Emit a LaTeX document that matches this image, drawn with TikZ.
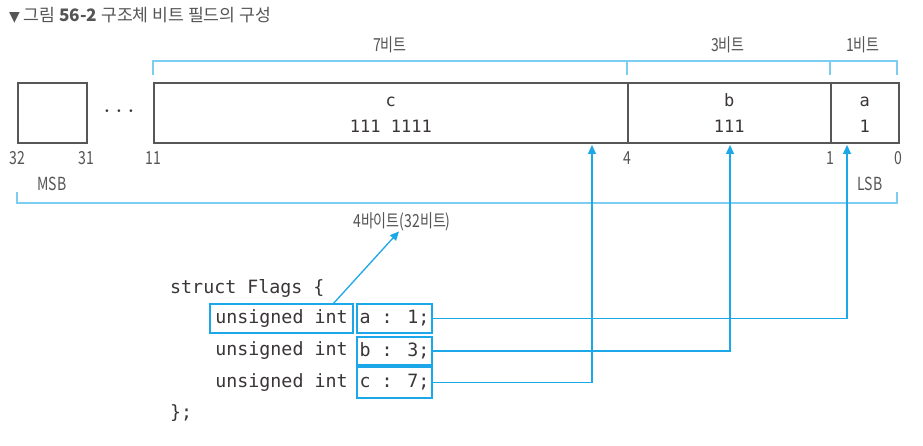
\documentclass[tikz,border=0pt]{standalone}
\usepackage{fontspec}
\setmainfont{Noto Sans CJK KR}
\newfontfamily\krfont{Noto Sans CJK KR}
\newfontfamily\lblfont[FakeStretch=0.78]{Noto Sans CJK KR}
\newfontfamily\monofont{DejaVu Sans Mono}
\newfontfamily\symfont{DejaVu Sans}
\usetikzlibrary{arrows.meta}
\definecolor{boxgray}{HTML}{595657}
\definecolor{txtgray}{HTML}{555555}
\definecolor{codecol}{HTML}{3A3536}
\definecolor{skyb}{HTML}{1CA8E8}
\definecolor{brkb}{HTML}{7CCDF2}
\tikzset{
  cell/.style={draw=boxgray, line width=1.6pt, inner sep=0pt, anchor=north west, minimum height=60pt, align=center,
    font=\monofont\fontsize{17}{26}\selectfont, text=codecol},
  lbl/.style={font=\lblfont\fontsize{18}{19}\selectfont, text=txtgray, inner sep=0pt},
  code/.style={font=\monofont\fontsize{18.3}{20}\selectfont, text=codecol, inner sep=0pt},
  cbox/.style={code, draw=skyb, line width=2.4pt, minimum height=29pt},
  brk/.style={draw=brkb, line width=1.1pt},
  conn/.style={draw=skyb, line width=1.3pt, -{Triangle[length=9pt,width=8pt]}},
}
\begin{document}
\begin{tikzpicture}[x=1pt,y=-1pt]
\useasboundingbox[fill=white] (0,0) rectangle (923,446);
% title
\node[anchor=west, inner sep=0pt, text=txtgray, font=\krfont\fontsize{17.2}{19}\selectfont] (title) at (9,15)
  {{\symfont\fontsize{14}{16}\selectfont ▼} 그림 {\bfseries 56-2} 구조체 비트 필드의 구성};
% brackets top
\draw[brk] (153,75) -- (153,61) -- (897,61) -- (897,75);
\draw[brk] (627,61) -- (627,75);
\draw[brk] (830,61) -- (830,75);
\node[lbl] (l7) at (390,45) {7비트};
\node[lbl] (l3) at (728,45) {3비트};
\node[lbl] (l1) at (863,45) {1비트};
% cells
\node[cell, minimum width=69pt] (c32) at (17,82) {};
\node[font=\symfont\fontsize{9}{9}\selectfont, text=codecol, inner sep=0pt] (dots) at (119,112) {•\hspace{6.7pt}•\hspace{6.7pt}•};
\node[cell, minimum width=474pt] (cc) at (153,82) {\vphantom{b}c\\111 1111};
\node[cell, minimum width=203pt] (cb) at (627,82) {\vphantom{b}b\\111};
\node[cell, minimum width=68pt] (ca) at (830,82) {\vphantom{b}a\\1};
% bit numbers
\node[lbl] (n32) at (17,158) {32};
\node[lbl] (n31) at (86,158) {31};
\node[lbl] (n11) at (153,158) {11};
\node[lbl] (n4) at (627,158) {4};
\node[lbl] (n1) at (830,158) {1};
\node[lbl] (n0) at (898,158) {0};
\node[lbl] (msb) at (52,184) {MSB};
\node[lbl] (lsb) at (870,184) {LSB};
% bottom bracket
\draw[brk] (17,192) -- (17,203) -- (897,203) -- (897,192);
\node[lbl] (bytes) at (402,222) {4바이트(32비트)};
% code
\node[code, anchor=west] (s1) at (170,288) {struct Flags \{};
\node[cbox, minimum width=143pt] (fu) at (281.5,318.5) {unsigned int};
\node[cbox, minimum width=75pt] (fa) at (394.5,318.5) {a : 1;};
\node[code] (u2) at (281.5,351) {unsigned int};
\node[cbox, minimum width=75pt, minimum height=28pt] (fb) at (394.5,351) {b : 3;};
\node[code] (u3) at (281.5,382.5) {unsigned int};
\node[cbox, minimum width=75pt, minimum height=31pt] (fc) at (394.5,382.5) {c : 7;};
\node[code, anchor=west] (s5) at (170,413) {\};};
% connectors
\coordinate (ta) at (847,145);
\coordinate (tb) at (730,145);
\coordinate (tc) at (592,145);
\draw[conn] (fa.east) -| (ta);
\draw[conn] (fb.east) -| (tb);
\draw[conn] (fc.east) -| (tc);
\coordinate (fus) at (333,304);
\draw[conn] (fus) -- (bytes.south -| 399,0) ;
\end{tikzpicture}
\end{document}
